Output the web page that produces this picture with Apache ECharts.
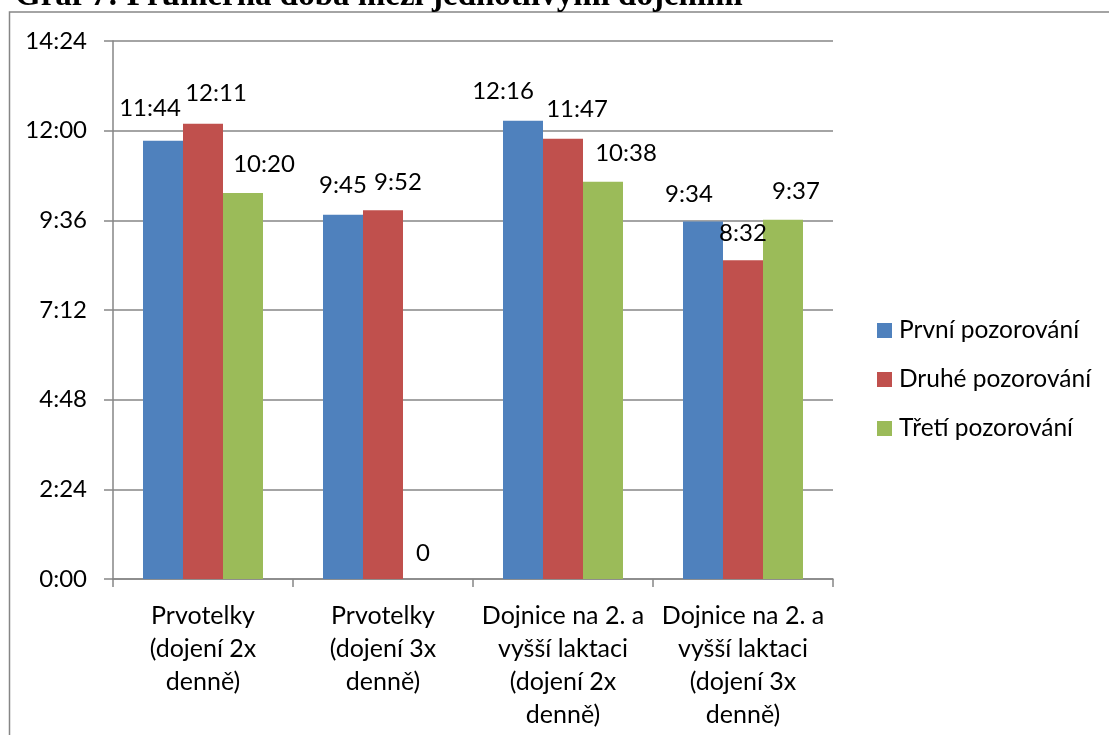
<!DOCTYPE html>
<html>
<head>
<meta charset="utf-8">
<script src="https://cdn.jsdelivr.net/npm/echarts@6/dist/echarts.min.js"></script>
<style>
  html, body { margin: 0; padding: 0; background: #fff; }
  #chart { width: 1109px; height: 735px; }
</style>
</head>
<body>
<div id="chart"></div>
<script>
// Average interval between milkings, per animal group and observation round
const categories = [
  'Prvotelky\n(dojení 2x\ndenně)',
  'Prvotelky\n(dojení 3x\ndenně)',
  'Dojnice na 2. a\nvyšší laktaci\n(dojení 2x\ndenně)',
  'Dojnice na 2. a\nvyšší laktaci\n(dojení 3x\ndenně)'
];
const seriesNames = ['První pozorování', 'Druhé pozorování', 'Třetí pozorování'];
const prvni = ['11:44', '9:45', '12:16', '9:34'];
const druhe = ['12:11', '9:52', '11:47', '8:32'];
const treti = ['10:20', '0:00', '10:38', '9:37'];
const yTicks = ['0:00', '2:24', '4:48', '7:12', '9:36', '12:00', '14:24'];

// label nudges [dx, dy] so the value labels sit where they were placed by hand
const prvniLabelShift = [[-13, -4], [0, -1], [-20, -1], [-14, 1]];
const druheLabelShift = [[13, -3], [15, 0], [14, -1], [0, 1]];
const tretiLabelShift = [[21, -1], [0, 2], [23, 0], [13, 0]];

const colors = ['#4F81BD', '#C0504D', '#9BBB59'];
const FONT = 'Lato';

function toMinutes(s) {
  const p = s.split(':');
  return Number(p[0]) * 60 + Number(p[1]);
}
function fmt(m) {
  const h = Math.floor(m / 60);
  const mm = Math.round(m % 60);
  return h + ':' + (mm < 10 ? '0' : '') + mm;
}

function makeSeries(name, values, shifts) {
  return {
    name: name,
    type: 'bar',
    barGap: '0%',
    barCategoryGap: '33.33%',
    data: values.map((v, i) => ({
      value: toMinutes(v),
      label: { offset: shifts[i] }
    })),
    label: {
      show: true,
      position: 'top',
      distance: 16,
      color: '#000',
      fontFamily: FONT,
      fontSize: 24,
      lineHeight: 24,
      formatter: p => (p.value === 0 ? '0' : fmt(p.value))
    }
  };
}

const chart = echarts.init(document.getElementById('chart'), null, { renderer: 'canvas' });
const yMax = toMinutes(yTicks[yTicks.length - 1]);
const yStep = toMinutes(yTicks[1]);

chart.setOption({
  animation: false,
  color: colors,
  textStyle: { fontFamily: FONT },
  graphic: [
    {
      type: 'rect',
      silent: true,
      shape: { x: 9.5, y: 12, width: 1300, height: 900 },
      style: { fill: 'none', stroke: '#868686', lineWidth: 1.5 }
    },
    {
      type: 'text',
      left: 15,
      top: -20,
      silent: true,
      style: {
        text: 'Graf 7: Průměrná doba mezi jednotlivými dojeními',
        fontFamily: 'Liberation Serif',
        fontWeight: 'bold',
        fontSize: 33,
        fill: '#000'
      }
    }
  ],
  grid: { left: 113, right: 276, top: 41, bottom: 156, containLabel: false },
  legend: {
    orient: 'vertical',
    left: 872,
    top: 313,
    itemWidth: 15,
    itemHeight: 15,
    itemGap: 24,
    icon: 'rect',
    textStyle: { fontFamily: FONT, fontSize: 24.5, color: '#000', lineHeight: 24, padding: [0, 0, 0, 2] },
    data: seriesNames
  },
  xAxis: {
    type: 'category',
    data: categories,
    axisLine: { show: true, lineStyle: { color: '#868686', width: 1.5 } },
    axisTick: { show: true, length: 8, alignWithLabel: false, lineStyle: { color: '#868686', width: 1.5 } },
    axisLabel: {
      interval: 0,
      margin: 20,
      color: '#000',
      fontFamily: FONT,
      fontSize: 25,
      lineHeight: 33,
      align: 'center'
    },
    splitLine: { show: false }
  },
  yAxis: {
    type: 'value',
    min: 0,
    max: yMax,
    interval: yStep,
    axisLine: { show: true, lineStyle: { color: '#868686', width: 1.5 } },
    axisTick: { show: true, inside: false, length: 9, lineStyle: { color: '#868686', width: 1.5 } },
    axisLabel: {
      margin: 26,
      color: '#000',
      fontFamily: FONT,
      fontSize: 24,
      formatter: v => yTicks[Math.round(v / yStep)]
    },
    splitLine: { show: true, lineStyle: { color: '#868686', width: 1.5 } }
  },
  series: [
    makeSeries(seriesNames[0], prvni, prvniLabelShift),
    makeSeries(seriesNames[1], druhe, druheLabelShift),
    makeSeries(seriesNames[2], treti, tretiLabelShift)
  ]
});
</script>
</body>
</html>
